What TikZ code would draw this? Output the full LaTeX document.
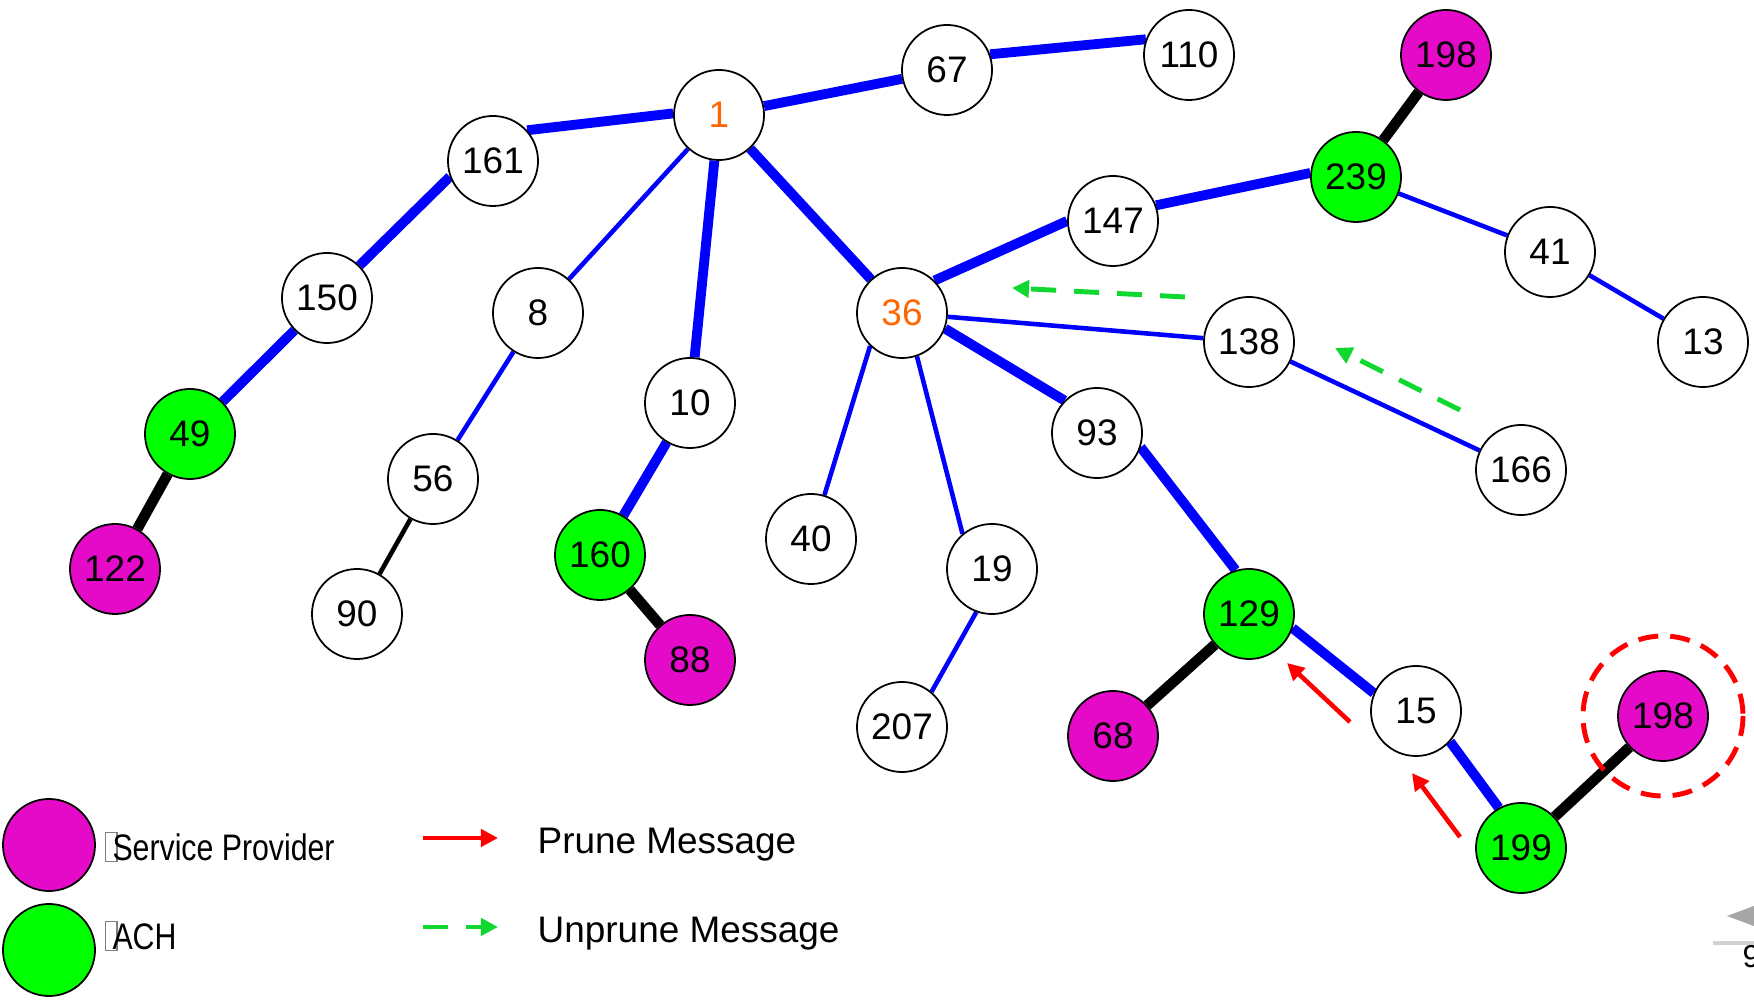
\documentclass[tikz,border=0pt]{standalone}
\usepackage{fontspec}
\usepackage{graphicx}
\setmainfont{Liberation Sans}
\usetikzlibrary{arrows.meta, backgrounds}

\definecolor{spmagenta}{RGB}{228,10,200}
\definecolor{achgreen}{RGB}{0,255,0}
\definecolor{unprunegreen}{RGB}{16,216,48}
\definecolor{rootorange}{RGB}{255,102,0}

\tikzset{
    router/.style={circle, draw=black, line width=0.5pt, fill=white,
        minimum size=0.9cm, inner sep=0pt, font=\fontsize{10.5}{12}\selectfont},
    sp/.style={router, fill=spmagenta},
    ach/.style={router, fill=achgreen},
    fatlink/.style={blue, line width=2.8pt},
    thinlink/.style={blue, line width=1.3pt},
    splink/.style={black, line width=3pt},
    prune/.style={red, line width=1.3pt, -{Triangle[length=0.17cm, width=0.17cm]}},
    unprune/.style={unprunegreen, line width=1.4pt, dash pattern=on 0.25cm off 0.18cm,
        -{Triangle[length=0.17cm, width=0.17cm]}},
    legendtext/.style={anchor=west, inner sep=0pt, font=\fontsize{10.5}{12}\selectfont},
}

\newcommand{\missingglyph}{\textcolor{gray}{\fboxsep0pt\fboxrule0.4pt\fbox{\rule{0pt}{0.27cm}\hspace{0.1cm}}}\kern-0.05cm}

\begin{document}
\begin{tikzpicture}[x=0.01cm, y=-0.01cm]
    \clip (0,0) rectangle (1754,1001);

    % routers
    \node[router] (n1) at (719,115) {\textcolor{rootorange}{1}};
    \node[router] (n67) at (947,70) {67};
    \node[router] (n110) at (1189,55) {110};
    \node[sp] (n198a) at (1446,55) {198};
    \node[ach] (n239) at (1356,177) {239};
    \node[router] (n161) at (493,161) {161};
    \node[router] (n147) at (1113,221) {147};
    \node[router] (n41) at (1550,252) {41};
    \node[router] (n13) at (1703,342) {13};
    \node[router] (n150) at (327,298) {150};
    \node[router] (n8) at (538,313) {8};
    \node[router] (n36) at (902,313) {\textcolor{rootorange}{36}};
    \node[router] (n138) at (1249,342) {138};
    \node[router] (n10) at (690,403) {10};
    \node[ach] (n49) at (190,434) {49};
    \node[router] (n93) at (1097,433) {93};
    \node[router] (n166) at (1521,470) {166};
    \node[router] (n56) at (433,479) {56};
    \node[router] (n40) at (811,539) {40};
    \node[ach] (n160) at (600,555) {160};
    \node[sp] (n122) at (115,569) {122};
    \node[router] (n19) at (992,569) {19};
    \node[router] (n90) at (357,614) {90};
    \node[ach] (n129) at (1249,614) {129};
    \node[sp] (n88) at (690,660) {88};
    \node[router] (n207) at (902,727) {207};
    \node[sp] (n68) at (1113,736) {68};
    \node[router] (n15) at (1416,711) {15};
    \node[sp] (n198b) at (1663,716) {198};
    \node[ach] (n199) at (1521,848) {199};

    % tree links
    \begin{pgfonlayer}{background}
        \foreach \a/\b in {n161.42/n1.178, n1/n67, n67.20/n110.160,
                n161.200/n150.45, n150/n49, n1/n10, n10/n160, n1/n36,
                n36.45/n147.180, n147.20/n239.175, n36.-20/n93.135,
                n93.-18/n129.107, n129.-18/n15.157, n15.-42/n199.119}
            \draw[fatlink] (\a) -- (\b);
        \foreach \a/\b in {n1/n8, n8/n56, n239/n41, n41/n13, n36/n138,
                n138/n166, n36.226/n40.73, n36.-71/n19.130, n19.250/n207.50}
            \draw[thinlink] (\a) -- (\b);
        \foreach \a/\b in {n49/n122, n160/n88, n239/n198a, n129/n68, n199/n198b}
            \draw[splink] (\a) -- (\b);
        \draw[black, line width=1.3pt] (n56) -- (n90);
    \end{pgfonlayer}

    % leaving service provider
    \draw[red, line width=1.4pt, dash pattern=on 0.2cm off 0.12cm] (n198b) circle[radius=80];

    % messages
    \coordinate (p1s) at (1350,722);
    \coordinate (p1e) at (1287,663);
    \coordinate (p2s) at (1460,837);
    \coordinate (p2e) at (1412,773);
    \coordinate (u1s) at (1185,297);
    \coordinate (u1e) at (1012,288);
    \coordinate (u2s) at (1460,410);
    \coordinate (u2e) at (1335,348);
    \draw[prune] (p1s) -- (p1e);
    \draw[prune] (p2s) -- (p2e);
    \draw[unprune] (u1s) -- (u1e);
    \draw[unprune] (u2s) -- (u2e);

    % legend
    \node[sp, minimum size=0.92cm] (keysp) at (49,845) {};
    \node[ach, minimum size=0.92cm] (keyach) at (49,950) {};
    \node[legendtext] (keysptext) at (104,847)
        {\missingglyph\scalebox{0.82}[1]{Service Provider}};
    \node[legendtext] (keyachtext) at (104,936)
        {\missingglyph\scalebox{0.82}[1]{ACH}};
    \coordinate (kp1) at (423,838);
    \coordinate (kp2) at (498,838);
    \coordinate (ku1) at (423,927);
    \coordinate (ku2) at (498,927);
    \draw[prune] (kp1) -- (kp2);
    \draw[unprune] (ku1) -- (ku2);
    \node[legendtext] (keyprune) at (537,845) {Prune Message};
    \node[legendtext] (keyunprune) at (537,934) {Unprune Message};

    % slide corner
    \fill[gray!70] (1727,916) -- (1770,900) -- (1770,932) -- cycle;
    \draw[gray!35, line width=1pt] (1713,943) -- (1770,943);
    \node[anchor=north west, inner sep=0pt, font=\fontsize{9}{10}\selectfont] (pagenum) at (1742,945) {9};
\end{tikzpicture}
\end{document}
